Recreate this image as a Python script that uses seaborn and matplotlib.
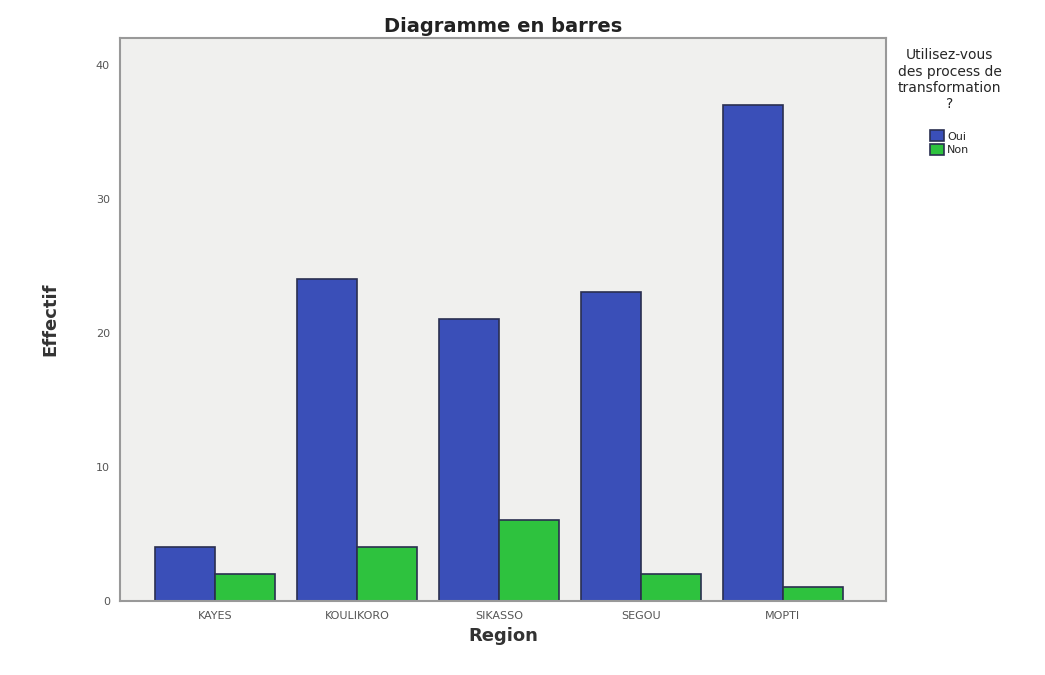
import pandas as pd
import matplotlib
matplotlib.use('Agg')
import matplotlib.pyplot as plt
import seaborn as sns

regions = ['KAYES', 'KOULIKORO', 'SIKASSO', 'SEGOU', 'MOPTI']
oui = [4, 24, 21, 23, 37]
non = [2, 4, 6, 2, 1]
yticks = [0, 10, 20, 30, 40]

df = pd.DataFrame({
    'Region': regions * 2,
    'Effectif': oui + non,
    'Reponse': ['Oui'] * len(regions) + ['Non'] * len(regions),
})

sns.set_style('white')
plt.rcParams['font.family'] = ['DejaVu Sans']

fig = plt.figure(figsize=(10.45, 6.75), dpi=100)
ax = fig.add_axes([0.115, 0.110, 0.733, 0.834])
ax.set_facecolor('#f0f0ee')

sns.barplot(data=df, x='Region', y='Effectif', hue='Reponse',
            palette={'Oui': '#3a4fb8', 'Non': '#2ec23e'},
            width=0.845, edgecolor='#2a2f50', linewidth=1.2,
            saturation=1, ax=ax)

ax.set_xlim(-0.67, 4.73)
ax.set_ylim(0, 42)
ax.set_yticks(yticks)
ax.tick_params(axis='both', labelsize=8, colors='#555555', length=4)
for s in ax.spines.values():
    s.set_color('#999999')
    s.set_linewidth(1.5)

ax.set_xlabel('Region', fontsize=13, fontweight='bold', color='#333333')
ax.set_ylabel('Effectif', fontsize=13, fontweight='bold', color='#333333',
              labelpad=26)
ax.set_title('Diagramme en barres', fontsize=14, color='#222222', pad=4,
             fontweight='semibold')

leg = ax.legend(title='Utilisez-vous\ndes process de\ntransformation\n?',
                loc='upper left', bbox_to_anchor=(1.005, 0.995), frameon=False,
                fontsize=8, title_fontsize=10, handlelength=1.2,
                handleheight=1.1, handletextpad=0.3, labelspacing=0.25,
                borderaxespad=0.3)
leg._legend_box.align = 'center'
leg._legend_box.sep = 14
leg.get_title().set_multialignment('center')

fig.savefig('out.png', dpi=100)
